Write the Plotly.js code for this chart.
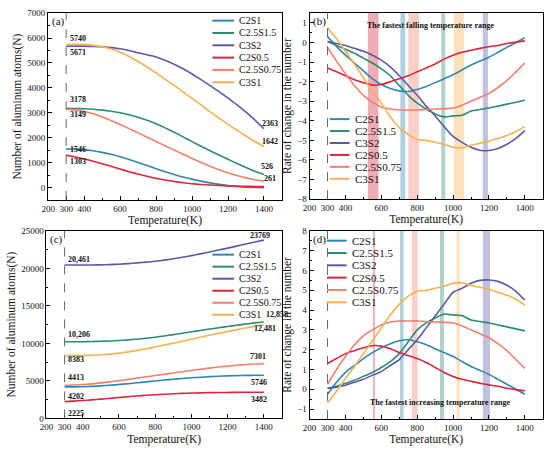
<!DOCTYPE html>
<html><head><meta charset="utf-8">
<script src="https://cdn.plot.ly/plotly-3.0.1.min.js"></script>
<style>html,body{margin:0;padding:0;background:#fff}</style>
</head><body><div id="chart" style="width:550px;height:452px"></div>
<script>
// ---------- DATA ----------
const temperature = [300,350,400,450,500,550,600,650,700,750,800,850,900,950,1000,1050,1100,1150,1200,1250,1300,1350,1400];
const seriesNames = ['C2S1','C2.5S1.5','C3S2','C2S0.5','C2.5S0.75','C3S1'];
const seriesColors = ['#2f86b4','#2e8b71','#5b5aa6','#d7263d','#f47f6b','#f7b14f'];

// (a) number of aluminum atoms, falling
const atomsA_C2S1     = [1546,1545,1525,1480,1415,1335,1240,1130,1010,885,760,640,530,430,340,260,190,130,80,45,20,8,2];
const atomsA_C25S15   = [3178,3176,3163,3141,3107,3061,3001,2925,2827,2705,2560,2397,2221,2035,1846,1659,1479,1306,1137,970,808,652,526];
const atomsA_C3S2     = [5671,5675,5675,5665,5650,5615,5570,5500,5410,5330,5240,5110,4950,4770,4560,4330,4090,3850,3590,3320,3030,2710,2363];
const atomsA_C2S05    = [1303,1230,1150,1060,960,853,745,640,543,455,375,305,245,196,157,127,104,86,72,61,53,48,46];
const atomsA_C25S075  = [3149,3119,3055,2960,2837,2693,2534,2367,2196,2023,1851,1679,1508,1339,1171,1010,860,720,595,485,390,315,261];
const atomsA_C3S1     = [5740,5745,5735,5705,5650,5560,5430,5260,5060,4840,4600,4350,4100,3840,3580,3315,3050,2790,2540,2300,2070,1850,1642];

// (b) rate of change, falling
const rateB_C2S1      = [0.3,-0.2,-0.65,-1.05,-1.45,-1.85,-2.15,-2.35,-2.47,-2.5,-2.4,-2.25,-2.05,-1.85,-1.65,-1.4,-1.15,-0.95,-0.75,-0.5,-0.25,0.0,0.25];
const rateB_C25S15    = [0.05,-0.15,-0.35,-0.55,-0.8,-1.05,-1.35,-1.7,-2.2,-2.7,-3.1,-3.4,-3.65,-3.8,-3.75,-3.72,-3.5,-3.42,-3.35,-3.25,-3.15,-3.05,-2.95];
const rateB_C3S2      = [0.05,-0.05,-0.15,-0.3,-0.45,-0.65,-0.9,-1.25,-1.7,-2.2,-2.7,-3.25,-3.75,-4.3,-4.8,-5.1,-5.35,-5.5,-5.52,-5.42,-5.2,-4.9,-4.5];
const rateB_C2S05     = [-1.3,-1.5,-1.7,-1.9,-2.05,-2.18,-2.15,-2.0,-1.85,-1.7,-1.5,-1.3,-1.1,-0.85,-0.65,-0.5,-0.4,-0.3,-0.22,-0.15,-0.05,0.02,0.08];
const rateB_C25S075   = [-0.25,-0.95,-1.6,-2.2,-2.7,-3.05,-3.3,-3.4,-3.45,-3.45,-3.45,-3.42,-3.4,-3.38,-3.35,-3.2,-3.0,-2.8,-2.6,-2.3,-1.95,-1.5,-1.05];
const rateB_C3S1      = [0.75,0.2,-0.45,-1.1,-1.8,-2.5,-3.1,-3.8,-4.35,-4.7,-4.95,-5.0,-5.1,-5.2,-5.35,-5.38,-5.25,-5.15,-5.05,-4.9,-4.75,-4.55,-4.3];

// (c) number of aluminum atoms, increasing
const atomsC_C2S1     = [4202,4203,4223,4268,4333,4413,4508,4618,4738,4863,4988,5108,5218,5318,5408,5488,5558,5618,5668,5703,5728,5740,5746];
const atomsC_C25S15   = [10206,10208,10221,10243,10277,10323,10383,10459,10557,10679,10824,10987,11163,11349,11538,11725,11905,12078,12247,12414,12576,12732,12858];
const atomsC_C3S2     = [20461,20455,20450,20455,20470,20505,20560,20635,20730,20830,20950,21100,21280,21480,21700,21930,22180,22440,22700,22970,23250,23510,23769];
const atomsC_C2S05    = [2225,2298,2378,2468,2568,2675,2783,2888,2985,3073,3153,3223,3283,3332,3371,3401,3424,3442,3456,3467,3475,3480,3482];
const atomsC_C25S075  = [4413,4443,4507,4602,4725,4869,5028,5195,5366,5539,5711,5883,6054,6223,6391,6552,6702,6842,6967,7077,7172,7247,7301];
const atomsC_C3S1     = [8383,8378,8388,8418,8473,8563,8693,8863,9063,9283,9523,9773,10023,10283,10543,10808,11073,11333,11583,11823,12053,12273,12481];

// (d) rate of change, increasing
const rateD_C2S1      = [-0.25,0.35,0.85,1.2,1.55,1.85,2.1,2.3,2.45,2.5,2.4,2.25,2.05,1.85,1.65,1.4,1.15,0.95,0.75,0.5,0.25,0.0,-0.25];
const rateD_C25S15    = [0.05,0.15,0.3,0.45,0.65,0.85,1.1,1.4,1.8,2.4,3.0,3.35,3.6,3.8,3.75,3.72,3.5,3.42,3.35,3.25,3.15,3.05,2.95];
const rateD_C3S2      = [0.05,0.1,0.2,0.35,0.5,0.7,0.9,1.2,1.5,2.0,2.5,3.1,3.7,4.3,4.9,5.1,5.35,5.5,5.52,5.45,5.25,4.95,4.5];
const rateD_C2S05     = [1.3,1.55,1.8,1.95,2.1,2.2,2.18,2.05,1.85,1.7,1.55,1.35,1.1,0.85,0.65,0.5,0.4,0.3,0.22,0.15,0.05,-0.02,-0.08];
const rateD_C25S075   = [0.25,1.0,1.65,2.25,2.7,3.0,3.25,3.4,3.45,3.45,3.45,3.42,3.4,3.38,3.35,3.2,3.0,2.8,2.6,2.3,1.95,1.5,1.05];
const rateD_C3S1      = [-0.7,-0.1,0.55,1.15,1.8,2.45,3.1,3.75,4.3,4.7,4.95,5.0,5.1,5.2,5.35,5.38,5.25,5.15,5.05,4.9,4.75,4.55,4.25];

// fastest-change temperature ranges [start, end] per series (same order as seriesNames)
const fallingRanges    = [[706,733],[934,956],[1166,1194],[525,584],[750,809],[1004,1060]];
const increasingRanges = [[704,724],[927,949],[1166,1206],[554,564],[770,802],[1019,1037]];

const xTickVals = [200,300,400,600,800,1000,1200,1400];
const startTemperature = 300;

// value labels: [text, temperature, value]
const labelsA = [['5740',309,5984],['5671',309,5436],['3178',309,3543],['3149',309,2918],['1546',309,1510],['1303',309,1040],
                 ['2363',1379,2566],['1642',1378,1850],['526',1372,833],['261',1390,352]];
const labelsC = [['23769',1310,24380],['20,461',309,21184],['10,206',309,11184],['12,858',1402,13816],['12,481',1337,11974],
                 ['8383',309,7895],['7301',1315,8250],['4413',309,5395],['4202',309,2895],['5746',1320,4829],['2225',309,697],['3482',1320,2539]];

// ---------- LAYOUT HELPERS ----------
const W = 550, H = 452;
const FONT = 'Liberation Serif, Times New Roman, serif';
const px = v => v / W;
const py = v => 1 - v / H;
const XR = [200,1500];

const panels = [
  {id:'', x:[41.7,278.5], y:[8.3,199.5], yr:[-500,7000], dt:1000, ytitle:'Number of aluminum atoms(N)', tag:'(a)'},
  {id:'2', x:[306.5,542.7], y:[8.3,198.5], yr:[-8,1.5], dt:1, ytitle:'Rate of change in the number', tag:'(b)'},
  {id:'3', x:[40.0,278.5], y:[231,422.7], yr:[0,25000], dt:5000, ytitle:'Number of aluminum atoms(N)', tag:'(c)'},
  {id:'4', x:[306.5,542.7], y:[231,423.3], yr:[-1.5,8], dt:1, ytitle:'Rate of change in the number', tag:'(d)'}
];

const layout = {
  width: W, height: H, margin:{l:0,r:0,t:0,b:0},
  paper_bgcolor:'#fff', plot_bgcolor:'#fff', showlegend:false,
  font:{family:FONT, color:'#111', size:9},
  shapes:[], annotations:[]
};

panels.forEach(p => {
  const xa = 'xaxis'+p.id, ya = 'yaxis'+p.id;
  layout[xa] = {
    domain:[px(p.x[0]), px(p.x[1])], anchor:'y'+p.id, range:XR,
    tickmode:'array', tickvals:xTickVals, ticks:'inside', ticklen:4, tickwidth:1, tickcolor:'#000',
    minor:{tickmode:'array', tickvals:[500,700,900,1100,1300], ticks:'inside', ticklen:2, tickcolor:'#000'},
    showline:true, linecolor:'#000', linewidth:1, mirror:true, showgrid:false, zeroline:false,
    tickfont:{family:FONT, size:9, color:'#111'},
    automargin:true,
    title:{text:'Temperature(K)', font:{family:FONT, size:11.5, color:'#111', weight:'normal'}, standoff:3}
  };
  layout[ya] = {
    domain:[py(p.y[1]), py(p.y[0])], anchor:'x'+p.id, range:p.yr, dtick:p.dt, tick0:0,
    ticks:'inside', ticklen:4, tickwidth:1, tickcolor:'#000',
    minor:{dtick:p.dt/2, ticks:'inside', ticklen:2, tickcolor:'#000'},
    showline:true, linecolor:'#000', linewidth:1, mirror:true, showgrid:false, zeroline:false,
    tickformat:(p.id==='2' || p.id==='4') ? '' : 'd', tickfont:{family:FONT, size:9, color:'#111'},
    automargin:true,
    title:{text:p.ytitle, font:{family:FONT, size:11.5, color:'#111', weight:'normal'}, standoff:3}
  };
  layout.shapes.push({type:'line', xref:'x'+p.id, yref:'y'+p.id+' domain', x0:startTemperature, x1:startTemperature, y0:0, y1:1,
    line:{color:'#666', width:1, dash:'dash'}, layer:'above'});
  layout.annotations.push({text:p.tag, xref:'paper', yref:'paper', x:px(p.x[0]+1.5), y:py(p.y[0]+8.5), xanchor:'left', yanchor:'middle',
    showarrow:false, font:{family:FONT, size:11, color:'#111'}});
});

// shaded bands
function addBands(ranges, id) {
  ranges.forEach((r,i) => {
    layout.shapes.push({type:'rect', xref:'x'+id, yref:'y'+id+' domain', x0:r[0], x1:r[1], y0:0, y1:1,
      fillcolor:seriesColors[i], opacity:0.38, line:{width:0}, layer:'below'});
  });
}
addBands(fallingRanges,'2');
addBands(increasingRanges,'4');

// value labels, placed in paper space from the panel's scales
function addLabels(list, p) {
  list.forEach(l => {
    const xPix = p.x[0] + (l[1]-XR[0])/(XR[1]-XR[0])*(p.x[1]-p.x[0]);
    const yPix = p.y[1] - (l[2]-p.yr[0])/(p.yr[1]-p.yr[0])*(p.y[1]-p.y[0]);
    layout.annotations.push({text:'<b>'+l[0]+'</b>', xref:'paper', yref:'paper', x:px(xPix), y:py(yPix),
      xanchor:'left', yanchor:'middle', showarrow:false, font:{family:FONT, size:8, color:'#111'}});
  });
}
addLabels(labelsA, panels[0]);
addLabels(labelsC, panels[2]);

layout.annotations.push({text:'<b>The fastest falling temperature range</b>', xref:'paper', yref:'paper', x:px(429), y:py(21),
  xanchor:'center', yanchor:'middle', showarrow:false, font:{family:FONT, size:8, color:'#111'}});
layout.annotations.push({text:'<b>The fastest increasing temperature range</b>', xref:'paper', yref:'paper', x:px(439), y:py(406),
  xanchor:'center', yanchor:'middle', showarrow:false, font:{family:FONT, size:8, color:'#111'}});

// custom compact legends: [lineStartX, lineEndX, textX, firstRowY, rowStep, fontSize]
const legendBoxes = [
  [208,230,232.5,16,12.6,10],
  [327,347,350,116.7,12.2,11],
  [208,230,232.5,255.3,12.3,10],
  [324,344,347,241,12.6,11]
];
legendBoxes.forEach(b => {
  seriesNames.forEach((name,i) => {
    const yy = b[3] + i*b[4];
    layout.shapes.push({type:'line', xref:'paper', yref:'paper', x0:px(b[0]), x1:px(b[1]), y0:py(yy), y1:py(yy),
      line:{color:seriesColors[i], width:2}});
    layout.annotations.push({text:name, xref:'paper', yref:'paper', x:px(b[2]), y:py(yy), xanchor:'left', yanchor:'middle',
      showarrow:false, font:{family:FONT, size:b[5], color:'#111'}});
  });
});

// ---------- TRACES ----------
const panelSeries = [
  ['', [atomsA_C2S1, atomsA_C25S15, atomsA_C3S2, atomsA_C2S05, atomsA_C25S075, atomsA_C3S1]],
  ['2',[rateB_C2S1, rateB_C25S15, rateB_C3S2, rateB_C2S05, rateB_C25S075, rateB_C3S1]],
  ['3',[atomsC_C2S1, atomsC_C25S15, atomsC_C3S2, atomsC_C2S05, atomsC_C25S075, atomsC_C3S1]],
  ['4',[rateD_C2S1, rateD_C25S15, rateD_C3S2, rateD_C2S05, rateD_C25S075, rateD_C3S1]]
];
const traces = [];
panelSeries.forEach(ps => {
  ps[1].forEach((vals,i) => traces.push({
    type:'scatter', mode:'lines', x:temperature, y:vals, name:seriesNames[i],
    xaxis:'x'+ps[0], yaxis:'y'+ps[0],
    line:{color:seriesColors[i], width:1.6, shape:'spline', smoothing:0.6}
  }));
});

Plotly.newPlot('chart', traces, layout, {staticPlot:true, displayModeBar:false});
</script></body></html>
